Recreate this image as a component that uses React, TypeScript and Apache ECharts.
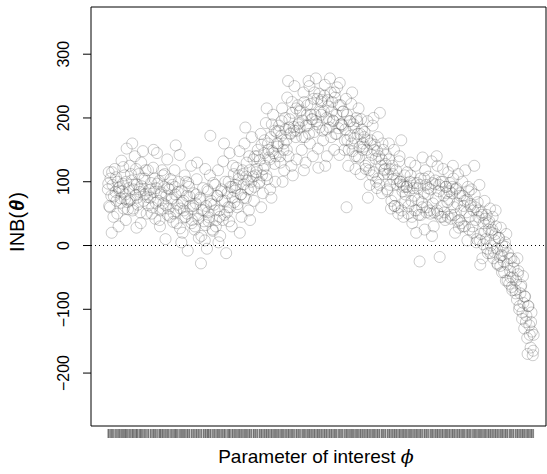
import React, { useEffect, useRef } from "react";
import * as echarts from "echarts";

// [phi, INB] samples (wide spread)
const samplesA: [number, number][] = [[0.2,88],[0.5,62],[0.8,105],[1.0,78],[1.3,95],[1.5,45],[1.8,120],[2.0,84],[2.2,70],[2.5,100],[2.7,30],[3.0,92],[3.2,74],[3.4,133],[3.6,85],[3.9,58],[4.1,110],[4.3,80],[4.6,152],[4.8,68],[0.4,115],[1.1,20],[2.9,86],[3.7,97],[4.4,40],
[5.1,90],[5.3,125],[5.5,72],[5.8,102],[6.0,55],[6.2,88],[6.5,140],[6.7,79],[7.0,96],[7.2,64],[7.4,112],[7.7,84],[7.9,35],[8.1,93],[8.4,148],[8.6,70],[8.8,105],[9.1,81],[9.3,50],[9.6,118],[9.8,87],[5.9,160],[6.9,28],[8.0,130],[9.4,76],
[10.1,75],[10.3,98],[10.6,60],[10.8,122],[11.0,84],[11.3,42],[11.5,90],[11.7,145],[12.0,70],[12.2,101],[12.5,55],[12.7,83],[12.9,118],[13.2,66],[13.4,92],[13.7,10],[13.9,78],[14.1,135],[14.4,58],[14.6,88],[14.9,104],[10.9,150],[12.4,30],[13.1,110],[14.2,48],
[15.1,72],[15.3,95],[15.6,50],[15.8,118],[16.0,80],[16.3,35],[16.5,64],[16.8,100],[17.0,142],[17.2,58],[17.5,86],[17.7,20],[17.9,70],[18.2,110],[18.4,45],[18.7,78],[18.9,-8],[19.2,92],[19.4,62],[19.7,125],[19.9,40],[16.1,157],[17.4,5],[18.0,55],[19.0,98],
[20.1,58],[20.3,82],[20.6,30],[20.8,66],[21.0,104],[21.3,48],[21.5,12],[21.8,75],[22.0,-28],[22.2,56],[22.5,90],[22.7,38],[23.0,120],[23.2,62],[23.4,-5],[23.7,85],[23.9,44],[24.2,172],[24.4,70],[24.7,25],[24.9,98],[21.1,130],[22.9,8],[23.6,52],[24.1,110]];

const samplesB: [number, number][] = [[25.1,64],[25.3,95],[25.6,40],[25.8,78],[26.0,118],[26.3,55],[26.5,15],[26.8,88],[27.0,70],[27.2,132],[27.5,48],[27.7,100],[27.9,-12],[28.2,82],[28.4,60],[28.7,145],[28.9,92],[29.2,30],[29.4,75],[29.7,112],[29.9,86],[26.1,5],[27.4,160],[28.6,38],[29.5,125],
[30.1,90],[30.3,122],[30.6,65],[30.8,104],[31.0,148],[31.3,80],[31.5,45],[31.8,112],[32.0,96],[32.2,160],[32.5,74],[32.7,130],[32.9,102],[33.2,55],[33.4,118],[33.7,88],[33.9,170],[34.2,108],[34.4,70],[34.7,140],[34.9,115],[31.1,20],[32.4,185],[33.5,40],[34.5,92],
[35.1,120],[35.3,150],[35.6,98],[35.8,134],[36.0,175],[36.3,110],[36.5,82],[36.8,145],[37.0,125],[37.2,192],[37.5,104],[37.7,160],[37.9,138],[38.2,88],[38.4,170],[38.7,148],[38.9,205],[39.2,128],[39.4,100],[39.7,178],[39.9,155],[36.1,60],[37.4,215],[38.5,75],[39.5,140],
[40.1,160],[40.3,188],[40.6,130],[40.8,172],[41.0,215],[41.3,150],[41.5,118],[41.8,182],[42.0,165],[42.2,232],[42.5,140],[42.7,198],[42.9,176],[43.2,125],[43.4,208],[43.7,186],[43.9,250],[44.2,170],[44.4,135],[44.7,220],[44.9,192],[41.1,100],[42.4,258],[43.5,110],[44.5,180],
[45.1,185],[45.3,212],[45.6,150],[45.8,196],[46.0,240],[46.3,170],[46.5,130],[46.8,205],[47.0,188],[47.2,258],[47.5,160],[47.7,222],[47.9,198],[48.2,140],[48.4,230],[48.7,205],[48.9,262],[49.2,190],[49.4,152],[49.7,238],[49.9,210],[46.1,118],[47.4,250],[48.5,178],[49.5,122]];

const samplesC: [number, number][] = [[50.1,205],[50.3,228],[50.6,165],[50.8,210],[51.0,252],[51.3,182],[51.5,140],[51.8,218],[52.0,198],[52.2,262],[52.5,170],[52.7,225],[52.9,196],[53.2,150],[53.4,232],[53.7,205],[53.9,248],[54.2,184],[54.4,142],[54.7,220],[54.9,190],[51.1,125],[52.4,240],[53.5,175],[54.5,255],
[55.1,188],[55.3,210],[55.6,150],[55.8,182],[56.0,230],[56.3,165],[56.5,125],[56.8,195],[57.0,172],[57.2,222],[57.5,148],[57.7,190],[57.9,168],[58.2,120],[58.4,200],[58.7,175],[58.9,215],[59.2,155],[59.4,112],[59.7,182],[59.9,160],[56.1,60],[57.4,240],[58.5,140],[59.5,198],
[60.1,155],[60.3,178],[60.6,120],[60.8,150],[61.0,195],[61.3,130],[61.5,95],[61.8,165],[62.0,142],[62.2,188],[62.5,115],[62.7,158],[62.9,136],[63.2,90],[63.4,170],[63.7,140],[63.9,208],[64.2,125],[64.4,82],[64.7,150],[64.9,118],[61.1,75],[62.4,200],[63.5,105],[64.5,160],
[65.1,120],[65.3,142],[65.6,88],[65.8,112],[66.0,160],[66.3,95],[66.5,58],[66.8,125],[67.0,104],[67.2,150],[67.5,78],[67.7,118],[67.9,96],[68.2,50],[68.4,132],[68.7,100],[68.9,165],[69.2,85],[69.4,45],[69.7,110],[69.9,80],[66.1,135],[67.4,62],[68.5,140],[69.5,92],
[70.1,92],[70.3,115],[70.6,62],[70.8,86],[71.0,130],[71.3,70],[71.5,35],[71.8,98],[72.0,78],[72.2,125],[72.5,55],[72.7,90],[72.9,72],[73.2,-25],[73.4,105],[73.7,68],[73.9,138],[74.2,82],[74.4,25],[74.7,95],[74.9,60],[71.1,110],[72.4,20],[73.5,48],[74.5,118]];

const samplesD: [number, number][] = [[75.1,80],[75.3,108],[75.6,55],[75.8,88],[76.0,132],[76.3,66],[76.5,30],[76.8,96],[77.0,74],[77.2,140],[77.5,50],[77.7,85],[77.9,-18],[78.2,100],[78.4,62],[78.7,120],[78.9,78],[79.2,40],[79.4,92],[79.7,68],[79.9,115],[76.1,15],[77.4,125],[78.5,45],[79.5,82],
[80.1,72],[80.3,98],[80.6,48],[80.8,82],[81.0,125],[81.3,60],[81.5,20],[81.8,90],[82.0,66],[82.2,112],[82.5,40],[82.7,78],[82.9,55],[83.2,100],[83.4,30],[83.7,70],[83.9,118],[84.2,52],[84.4,8],[84.7,85],[84.9,45],[81.1,105],[82.4,28],[83.5,62],[84.5,92],
[85.1,62],[85.3,88],[85.6,30],[85.8,55],[86.0,125],[86.3,40],[86.5,5],[86.8,68],[87.0,45],[87.2,95],[87.5,18],[87.7,52],[87.9,-20],[88.2,35],[88.4,70],[88.7,10],[88.9,48],[89.2,-12],[89.4,25],[89.7,58],[89.9,0],[86.1,80],[87.4,-30],[88.5,22],[89.5,38],
[90.1,20],[90.3,45],[90.6,-10],[90.8,8],[91.0,55],[91.3,-5],[91.5,-30],[91.8,12],[92.0,-18],[92.2,28],[92.5,-42],[92.7,-8],[92.9,-25],[93.2,5],[93.4,-55],[93.7,-30],[93.9,-12],[94.2,-60],[94.4,-40],[94.7,-20],[94.9,-70],[91.1,30],[92.4,-15],[93.5,18],[94.5,-50],
[95.1,-50],[95.3,-25],[95.6,-70],[95.8,-55],[96.0,-85],[96.3,-40],[96.5,-100],[96.8,-75],[97.0,-62],[97.2,-115],[97.5,-90],[97.7,-130],[97.9,-80],[98.2,-110],[98.4,-145],[98.7,-95],[98.9,-125],[99.2,-160],[99.4,-105],[99.7,-172],[99.9,-140],[96.1,-20],[97.4,-48],[98.5,-170],[99.5,-135]];

// denser middle of the band
const samplesCore: [number, number][] = [[0.3,97],[0.7,60],[1.2,115],[1.6,77],[2.1,107],[2.4,50],[2.8,90],[3.3,67],[3.8,123],[4.2,73],[4.5,100],[4.9,57],
[5.2,70],[5.6,112],[6.1,58],[6.4,95],[6.8,120],[7.1,75],[7.6,88],[7.8,52],[8.3,105],[8.7,80],[9.0,118],[9.7,63],
[10.2,88],[10.5,50],[11.1,105],[11.4,67],[11.8,97],[12.3,40],[12.6,80],[13.0,58],[13.5,112],[13.8,63],[14.3,90],[14.8,45],
[15.2,74],[15.5,37],[15.9,92],[16.2,54],[16.6,84],[17.1,27],[17.6,67],[18.1,44],[18.5,100],[18.8,50],[19.3,77],[19.8,35],
[20.2,62],[20.5,25],[20.9,80],[21.4,42],[21.7,72],[22.1,15],[22.6,55],[23.1,32],[23.5,88],[23.8,38],[24.3,65],[24.8,23],
[25.2,55],[25.5,30],[25.9,78],[26.4,45],[26.7,85],[27.1,40],[27.6,70],[28.1,52],[28.5,100],[28.8,60],[29.3,92],[29.8,68],
[30.2,95],[30.5,60],[30.9,110],[31.4,80],[31.7,118],[32.1,75],[32.6,108],[33.0,88],[33.3,140],[33.8,100],[34.3,135],[34.8,110],
[35.2,140],[35.7,100],[36.2,158],[36.6,120],[36.9,165],[37.3,110],[37.8,150],[38.1,135],[38.6,190],[39.0,145],[39.3,180],[39.8,160],
[40.2,180],[40.5,140],[40.9,195],[41.4,160],[41.7,200],[42.1,150],[42.6,185],[43.0,175],[43.3,225],[43.8,180],[44.3,215],[44.8,190],
[45.2,210],[45.7,170],[46.2,225],[46.6,188],[46.9,220],[47.3,175],[47.8,205],[48.1,198],[48.6,240],[49.0,195],[49.3,230],[49.8,185],
[50.2,225],[50.5,180],[50.9,235],[51.4,200],[51.7,228],[52.1,185],[52.6,210],[53.0,195],[53.3,240],[53.8,175],[54.3,220],[54.8,190],
[55.2,210],[55.7,165],[56.2,205],[56.6,150],[56.9,195],[57.3,160],[57.8,185],[58.1,140],[58.6,195],[59.0,138],[59.3,175],[59.8,150],
[60.2,170],[60.5,125],[60.9,165],[61.4,118],[61.7,160],[62.1,110],[62.6,150],[63.0,100],[63.3,148],[63.8,95],[64.3,135],[64.8,112],
[65.2,128],[65.7,85],[66.2,120],[66.6,70],[66.9,112],[67.3,62],[67.8,105],[68.1,60],[68.6,100],[69.0,55],[69.3,95],[69.8,68],
[70.2,92],[70.5,50],[70.9,100],[71.4,45],[71.7,90],[72.1,55],[72.6,98],[73.0,48],[73.3,95],[73.8,60],[74.3,105],[74.8,52],
[75.2,90],[75.7,50],[76.2,98],[76.6,52],[76.9,102],[77.3,55],[77.8,95],[78.1,45],[78.6,100],[79.0,52],[79.3,92],[79.8,45],
[80.2,85],[80.5,42],[80.9,92],[81.4,48],[81.7,88],[82.1,38],[82.6,82],[83.0,35],[83.3,78],[83.8,30],[84.3,72],[84.8,25],
[85.2,65],[85.7,20],[86.2,60],[86.6,10],[86.9,55],[87.3,8],[87.8,48],[88.1,2],[88.6,42],[89.0,-5],[89.3,35],[89.8,-12],
[90.2,25],[90.5,-20],[90.9,18],[91.4,-28],[91.7,12],[92.1,-32],[92.6,0],[93.0,-42],[93.3,-2],[93.8,-55],[94.3,-20],[94.8,-65],
[95.2,-35],[95.7,-75],[96.2,-45],[96.6,-95],[96.9,-65],[97.3,-105],[97.8,-80],[98.1,-120],[98.6,-95],[99.0,-140],[99.3,-120],[99.8,-165]];

const yTicks = [-200, -100, 0, 100, 200, 300];
const yTitle = "INB";
const xTitle = "Parameter of interest ";
const X_MIN = -3.75;
const X_MAX = 102.8;

export default function App() {
  const ref = useRef<HTMLDivElement>(null);
  useEffect(() => {
    if (!ref.current) return;
    const chart = echarts.init(ref.current, null, { renderer: "svg" });
    const samples = [...samplesA, ...samplesB, ...samplesC, ...samplesD, ...samplesCore];
    const font = "Liberation Sans, Arial, Helvetica, sans-serif";
    chart.setOption({
      animation: false,
      backgroundColor: "#fff",
      grid: [
        { left: 91, right: 1, top: 7, bottom: 48, show: true, borderColor: "#000", borderWidth: 1, backgroundColor: "transparent" },
        { left: 91, right: 1, top: 429, height: 9, show: false },
      ],
      xAxis: [
        { gridIndex: 0, type: "value", min: X_MIN, max: X_MAX, axisLine: { show: false, onZero: false }, axisTick: { show: false }, axisLabel: { show: false }, splitLine: { show: false } },
        { gridIndex: 1, type: "value", min: X_MIN, max: X_MAX, axisLine: { show: false, onZero: false }, axisTick: { show: false }, axisLabel: { show: false }, splitLine: { show: false } },
      ],
      yAxis: [
        {
          gridIndex: 0, type: "value", min: -283, max: 374,
          axisLine: { show: false, onZero: false },
          axisTick: { show: false },
          axisLabel: {
            show: true, rotate: 90, margin: 20, customValues: yTicks, color: "#000", fontSize: 16, fontFamily: font,
            formatter: (v: number) => String(v).replace("-", "\u2212"),
          },
          splitLine: { show: false },
        },
        { gridIndex: 1, type: "value", min: 0, max: 1, show: false, axisLine: { onZero: false } },
      ],
      series: [
        {
          type: "scatter",
          xAxisIndex: 0, yAxisIndex: 0,
          data: samples,
          symbol: "circle",
          symbolSize: 11,
          itemStyle: { color: "rgba(0,0,0,0)", borderColor: "rgba(60,60,60,0.33)", borderWidth: 1 },
          silent: true,
          markLine: {
            silent: true,
            symbol: ["none", "none"],
            label: { show: false },
            lineStyle: { type: [1, 3], color: "#000", width: 1 },
            data: [{ yAxis: 0 }],
          },
        },
        {
          type: "scatter",
          xAxisIndex: 1, yAxisIndex: 1,
          data: samples.map((s) => [s[0], 0.5]),
          symbol: "rect",
          symbolSize: [1, 9],
          itemStyle: { color: "rgba(0,0,0,0.4)" },
          silent: true,
        },
        {
          type: "custom",
          xAxisIndex: 0, yAxisIndex: 0,
          clip: false,
          silent: true,
          data: yTicks.map((v) => [X_MIN, v]),
          renderItem: (params: any, api: any) => {
            const p = api.coord([api.value(0), api.value(1)]);
            return {
              type: "line",
              shape: { x1: p[0] - 8, y1: p[1], x2: p[0], y2: p[1] },
              style: { stroke: "#000", lineWidth: 1 },
            };
          },
        },
      ],
      graphic: [
        {
          type: "text",
          x: 17, y: 222, rotation: Math.PI / 2,
          style: {
            text: yTitle + "({t|θ})",
            fill: "#000", font: `20px ${font}`, textAlign: "center", textVerticalAlign: "middle",
            rich: { t: { fontSize: 20, fontWeight: "bold", fontStyle: "italic", fontFamily: font, fill: "#000", padding: [0, 1, 0, 1] } },
          },
        },
        {
          type: "text",
          x: 316, y: 456,
          style: {
            text: xTitle + "{p|\u03D5}",
            fill: "#000", font: `19px ${font}`, textAlign: "center", textVerticalAlign: "middle",
            rich: { p: { fontSize: 19, fontStyle: "italic", fontFamily: "DejaVu Serif, serif", fill: "#000" } },
          },
        },
      ],
    });
    return () => chart.dispose();
  }, []);
  return <div ref={ref} style={{ width: 547, height: 474, position: "absolute", left: 0, top: 0 }} />;
}
